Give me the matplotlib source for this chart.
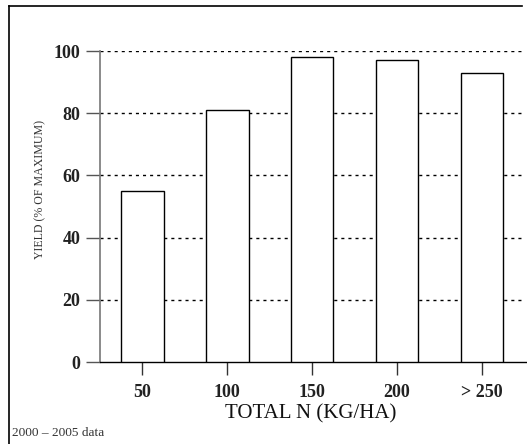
import matplotlib
matplotlib.use("Agg")
import matplotlib.pyplot as plt
from matplotlib.lines import Line2D

# data
categories = ["50", "100", "150", "200", "> 250"]
yieldPct = [55, 81, 98, 97, 93]
yTicks = [0, 20, 40, 60, 80, 100]

serif = ["Liberation Serif", "DejaVu Serif"]

fig = plt.figure(figsize=(5.27, 4.44), dpi=100)
ax = fig.add_axes([100 / 527, 82 / 444, 427 / 527, 311 / 444])

pos = list(range(len(categories)))
ax.bar(pos, yieldPct, width=0.5, color="white", edgecolor="black", linewidth=1.0, zorder=3)

# dotted grid lines (not at 0)
for v in yTicks[1:]:
    ax.axhline(v, xmin=0, xmax=0.99, color="black", linewidth=1.0,
               linestyle=(0, (2.2, 2.9)), zorder=1)

ax.set_xlim(-0.5, 4.53)
ax.set_ylim(0, 100)
ax.set_xticks(pos)
ax.set_xticklabels(categories)
ax.set_yticks(yTicks)

for s in ["top", "right"]:
    ax.spines[s].set_visible(False)
ax.spines["left"].set_color("#777777")
ax.spines["left"].set_linewidth(1.2)
ax.spines["bottom"].set_color("black")
ax.spines["bottom"].set_linewidth(1.0)

ax.tick_params(axis="y", length=10, width=1.0, color="#555555", pad=4)
ax.tick_params(axis="x", length=9, width=1.0, color="#333333", pad=7)
for lab in ax.get_xticklabels() + ax.get_yticklabels():
    lab.set_family(serif)
    lab.set_fontweight("bold")
    lab.set_fontsize(13)
    lab.set_color("#222222")

fig.text(311 / 527, 1 - 414 / 444, "TOTAL N (KG/HA)", family=serif, fontsize=15,
         ha="center", va="center", color="#111111")
fig.text(40 / 527, 1 - 189 / 444, "YIELD (% OF MAXIMUM)", family=serif, fontsize=8.6,
         rotation=90, ha="center", va="center", color="#333333")
fig.text(12 / 527, 1 - 433 / 444, "2000 \u2013 2005 data", family=serif, fontsize=9.6,
         ha="left", va="center", color="#333333")

# frame lines on left and top
fig.add_artist(Line2D([9 / 527, 9 / 527], [0, 1 - 6 / 444], transform=fig.transFigure,
                      color="black", linewidth=1.2))
fig.add_artist(Line2D([9 / 527, 522 / 527], [1 - 6 / 444, 1 - 6 / 444], transform=fig.transFigure,
                      color="black", linewidth=1.2))

fig.savefig("out.png", dpi=100)
